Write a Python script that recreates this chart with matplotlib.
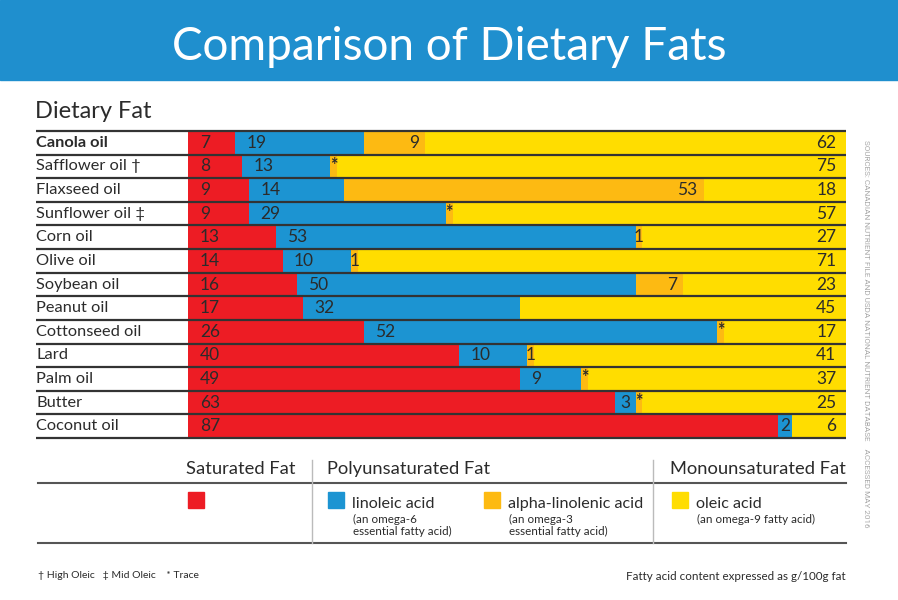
import matplotlib.pyplot as plt
import matplotlib.transforms as mtransforms
from matplotlib import font_manager
from matplotlib.patches import Rectangle
from matplotlib.lines import Line2D

plt.rcParams['font.family'] = ['Lato', 'DejaVu Sans']

# data (g/100g fat)
oils = ['Canola oil', 'Safflower oil †', 'Flaxseed oil', 'Sunflower oil ‡', 'Corn oil',
        'Olive oil', 'Soybean oil', 'Peanut oil', 'Cottonseed oil', 'Lard', 'Palm oil',
        'Butter', 'Coconut oil']
saturated = [7, 8, 9, 9, 13, 14, 16, 17, 26, 40, 49, 63, 87]
linoleic = [19, 13, 14, 29, 53, 10, 50, 32, 52, 10, 9, 3, 2]
alpha_linolenic = [9, '*', 53, '*', 1, 1, 7, 0, '*', 1, '*', '*', 0]   # '*' = trace
oleic = [62, 75, 18, 57, 27, 71, 23, 45, 17, 41, 37, 25, 6]

RED = '#ED1C24'
BLUE = '#1C94D2'
ORANGE = '#FDBA12'
YELLOW = '#FFDD00'
BANNER = '#1F8FCE'
TXT = '#2B2B2B'
TRACE_W = 1

W, H = 898, 600


def fx(px):
    return px / W


def fy(py):
    return 1 - py / H


fig = plt.figure(figsize=(W / 100, H / 100), dpi=100)

# title banner
fig.patches.append(Rectangle((0, fy(80)), 1, 80 / H, transform=fig.transFigure,
                             color=BANNER, zorder=0))
fig.text(0.5, fy(47), 'Comparison of Dietary Fats', color='white', fontsize=33,
         ha='center', va='center')
fig.text(fx(35), fy(111), 'Dietary Fat', color=TXT, fontsize=17, ha='left', va='center')

# bars
n = len(oils)
ala_w = [TRACE_W if a == '*' else a for a in alpha_linolenic]
left_blue = saturated
left_orange = [s + l for s, l in zip(saturated, linoleic)]
left_yellow = [lo + a for lo, a in zip(left_orange, ala_w)]
totals = [ly + o for ly, o in zip(left_yellow, oleic)]
xmax = max(totals)
yellow_w = [xmax - ly for ly in left_yellow]   # oleic fills the rest of the row

ax = fig.add_axes([fx(188), fy(438), fx(846) - fx(188), (438 - 131) / H])
rows = list(range(n))
ax.barh(rows, saturated, height=1.0, color=RED, linewidth=0)
ax.barh(rows, linoleic, left=left_blue, height=1.0, color=BLUE, linewidth=0)
ax.barh(rows, ala_w, left=left_orange, height=1.0, color=ORANGE, linewidth=0)
ax.barh(rows, yellow_w, left=left_yellow, height=1.0, color=YELLOW, linewidth=0)
ax.set_xlim(0, xmax)
ax.set_ylim(n - 0.5, -0.5)
ax.axis('off')

trans = mtransforms.blended_transform_factory(fig.transFigure, ax.transData)
for k in range(n + 1):
    ax.plot([fx(36), fx(846)], [k - 0.5, k - 0.5], color='#333333', lw=1.6,
            transform=trans, clip_on=False, solid_capstyle='butt')

for i, name in enumerate(oils):
    ax.text(fx(36), i, name, transform=trans, ha='left', va='center', fontsize=11.8,
            color=TXT, fontweight='bold' if i == 0 else 'normal')

vs = dict(va='center', fontsize=12.5, color=TXT, textcoords='offset points')
for i in rows:
    ax.annotate(str(saturated[i]), (0, i), xytext=(8.5, 0), ha='left', **vs)
    if linoleic[i] < 4:
        ax.annotate(str(linoleic[i]), (left_blue[i] + linoleic[i] / 2, i), xytext=(0, 0),
                    ha='center', **vs)
    else:
        ax.annotate(str(linoleic[i]), (left_blue[i], i), xytext=(8, 0), ha='left', **vs)
    a = alpha_linolenic[i]
    if a == '*':
        ax.annotate('*', (left_orange[i] + ala_w[i] / 2, i), xytext=(0, 1), ha='center',
                    fontweight='bold', **{**vs, 'fontsize': 13})
    elif a == 1:
        ax.annotate(str(a), (left_orange[i] + a / 2, i), xytext=(0, 0), ha='center', **vs)
    elif a > 1:
        ax.annotate(str(a), (left_orange[i] + a, i), xytext=(-4.5, 0), ha='right', **vs)
    ax.annotate(str(oleic[i]), (xmax, i), xytext=(-7, 0), ha='right', **vs)

# legend block
headers = [('Saturated Fat', 186, 'left'), ('Polyunsaturated Fat', 327, 'left'),
           ('Monounsaturated Fat', 846, 'right')]
for label, x, ha in headers:
    fig.text(fx(x), fy(469), label, fontsize=13.2, color=TXT, ha=ha, va='center')

for y in (483, 543):
    fig.lines.append(Line2D([fx(38), fx(846)], [fy(y), fy(y)], transform=fig.transFigure,
                            color='#555555', lw=1.5))
for x in (312, 653):
    fig.lines.append(Line2D([fx(x), fx(x)], [fy(460), fy(543)], transform=fig.transFigure,
                            color='#BBBBBB', lw=1.0))

swatches = [(188, RED, None, None),
            (328, BLUE, 'linoleic acid', '(an omega-6\nessential fatty acid)'),
            (484, ORANGE, 'alpha-linolenic acid', '(an omega-3\nessential fatty acid)'),
            (672, YELLOW, 'oleic acid', '(an omega-9 fatty acid)')]
for x, c, name, sub in swatches:
    fig.patches.append(Rectangle((fx(x), fy(508)), 16 / W, 16 / H,
                                 transform=fig.transFigure, color=c))
    if name:
        fig.text(fx(x + 24), fy(504), name, fontsize=11.6, color=TXT, ha='left', va='center')
        fig.text(fx(x + 25), fy(514), sub, fontsize=8.4, color=TXT, ha='left', va='top',
                 linespacing=1.15)

# footnotes
fig.text(fx(38), fy(576), '† High Oleic   ‡ Mid Oleic    * Trace', fontsize=7.5,
         color=TXT, ha='left', va='center')
fig.text(fx(846), fy(576), 'Fatty acid content expressed as g/100g fat', fontsize=8.4,
         color=TXT, ha='right', va='center')

names = {f.name for f in font_manager.fontManager.ttflist}
if 'Liberation Sans Narrow' in names:
    src_font, src_size = 'Liberation Sans Narrow', 6.8
else:
    src_font, src_size = 'Roboto', 5.9
fig.text(fx(866), fy(140),
         'SOURCES: CANADIAN NUTRIENT FILE AND USDA NATIONAL NUTRIENT DATABASE    ACCESSED MAY 2016',
         fontsize=src_size, color='#A8A8A8', rotation=-90, ha='center', va='top',
         family=[src_font, 'DejaVu Sans'])

fig.savefig('out.png', dpi=100)
